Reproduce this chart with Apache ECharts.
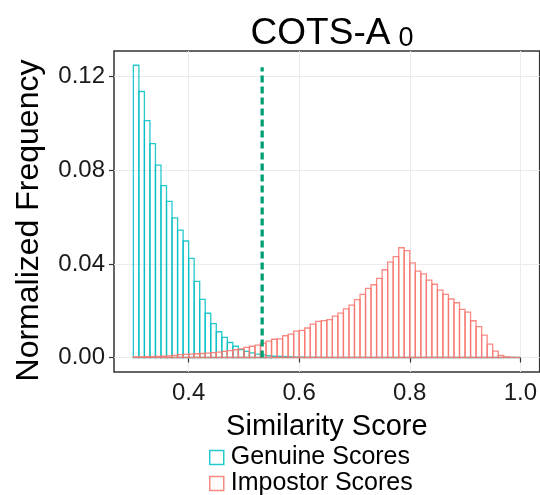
<!DOCTYPE html>
<html><head><meta charset="utf-8">
<script src="https://cdn.jsdelivr.net/npm/echarts@6/dist/echarts.min.js"></script>
<style>html,body{margin:0;padding:0;background:#fff}#c{width:540px;height:495px}</style>
</head><body><div id="c"></div>
<script>
// ---- data ----
const binStart = 0.30;
const binWidth = 0.01;
const genuine = [
  0.1249, 0.1137, 0.1012, 0.0914, 0.0822, 0.0735, 0.0667, 0.0597, 0.0544, 0.0498,
  0.0424, 0.0325, 0.0248, 0.0189, 0.0145, 0.0110, 0.0086, 0.0064, 0.0048, 0.0034,
  0.0026, 0.0020, 0.0014, 0.0011, 0.0008, 0.0006, 0.0005, 0.0004, 0.0003, 0.0002,
  0.0002, 0.0001, 0.0001, 0.0001, 0, 0, 0, 0, 0, 0,
  0, 0, 0, 0, 0, 0, 0, 0, 0, 0,
  0, 0, 0, 0, 0, 0, 0, 0, 0, 0,
  0, 0, 0, 0, 0, 0, 0, 0, 0, 0
];
const impostor = [
  0.0003, 0.0003, 0.0004, 0.0004, 0.0005, 0.0006, 0.0007, 0.0009, 0.0012, 0.0013,
  0.0014, 0.0016, 0.0017, 0.0019, 0.0021, 0.0023, 0.0026, 0.0029, 0.0033, 0.0037,
  0.0043, 0.0048, 0.0053, 0.0061, 0.0070, 0.0078, 0.0080, 0.0093, 0.0100, 0.0113,
  0.0116, 0.0126, 0.0143, 0.0154, 0.0158, 0.0162, 0.0177, 0.0190, 0.0208, 0.0224,
  0.0247, 0.0270, 0.0295, 0.0311, 0.0338, 0.0375, 0.0408, 0.0431, 0.0469, 0.0457,
  0.0404, 0.0369, 0.0357, 0.0331, 0.0313, 0.0288, 0.0270, 0.0250, 0.0234, 0.0206,
  0.0194, 0.0157, 0.0132, 0.0096, 0.0057, 0.0027, 0.0009, 0.0003, 0.0001, 0.0000
];
const thresholdX = 0.533;
const thresholdTop = 0.1241;
const xTicks = [0.4, 0.6, 0.8, 1.0];
const yTicks = [0, 0.04, 0.08, 0.12];
const titleMain = 'COTS-A';
const titleSub = '0';
const seriesNames = ['Genuine Scores', 'Impostor Scores'];
const xName = 'Similarity Score';
const yName = 'Normalized Frequency';

// ---- chart ----
const FONT = "'Liberation Sans', Arial, Helvetica, sans-serif";
const colGen = 'rgba(0,191,196,0.85)';
const colImp = 'rgba(248,118,109,0.85)';

function toBins(arr) {
  return arr.map((v, i) => [binStart + i * binWidth, binStart + (i + 1) * binWidth, v]);
}
function histRender(color) {
  return function (params, api) {
    const p0 = api.coord([api.value(0), 0]);
    const p1 = api.coord([api.value(1), api.value(2)]);
    return {
      type: 'rect',
      shape: { x: p0[0], y: p1[1], width: p1[0] - p0[0], height: p0[1] - p1[1] },
      style: { fill: 'rgba(255,255,255,0)', stroke: color, lineWidth: 1.3 }
    };
  };
}

const chart = echarts.init(document.getElementById('c'), null, { renderer: 'canvas' });
chart.setOption({
  animation: false,
  backgroundColor: '#fff',
  textStyle: { fontFamily: FONT },
  title: {
    text: '{a|' + titleMain + '}{b|' + titleSub + '}',
    left: 327, top: 10, textAlign: 'center',
    textStyle: {
      fontWeight: 'normal',
      rich: {
        a: { fontSize: 37, lineHeight: 37, verticalAlign: 'top', color: '#000', fontFamily: FONT, fontWeight: 'normal' },
        b: { fontSize: 27, lineHeight: 27, verticalAlign: 'top', color: '#000', fontFamily: FONT, fontWeight: 'normal', padding: [10, 0, 0, 8] }
      }
    }
  },
  grid: {
    left: 114, top: 51, width: 427, height: 321,
    show: true, borderColor: '#333', borderWidth: 1.5, backgroundColor: 'transparent'
  },
  legend: {
    orient: 'vertical', left: 209, top: 445, height: 80, padding: 0,
    itemWidth: 14, itemHeight: 14, itemGap: 1, icon: 'rect',
    textStyle: { fontSize: 25, lineHeight: 24, color: '#000', fontFamily: FONT, padding: [0, 0, 0, 2] },
    data: [
      { name: seriesNames[0], itemStyle: { color: 'rgba(255,255,255,0)', borderColor: colGen, borderWidth: 1.5 } },
      { name: seriesNames[1], itemStyle: { color: 'rgba(255,255,255,0)', borderColor: colImp, borderWidth: 1.5 } }
    ]
  },
  xAxis: {
    type: 'value', min: 0.265, max: 1.035,
    name: xName, nameLocation: 'middle', nameGap: 40,
    nameTextStyle: { fontSize: 29, color: '#000', fontFamily: FONT },
    axisLine: { show: false },
    axisTick: { show: true, length: 5, customValues: xTicks, lineStyle: { color: '#333', width: 1.2 } },
    axisLabel: { customValues: xTicks, fontSize: 24, color: '#1a1a1a', margin: 9, formatter: v => v.toFixed(1) },
    splitLine: { show: true, lineStyle: { color: '#ebebeb', width: 1 } }
  },
  yAxis: {
    type: 'value', min: -0.0062, max: 0.1310,
    name: yName, nameLocation: 'middle', nameGap: 69, nameRotate: 90,
    nameTextStyle: { fontSize: 32, color: '#000', fontFamily: FONT, padding: [0, 18, 0, 0] },
    axisLine: { show: false },
    axisTick: { show: true, length: 5, customValues: yTicks, lineStyle: { color: '#333', width: 1.2 } },
    axisLabel: { customValues: yTicks, fontSize: 24, color: '#1a1a1a', margin: 9, formatter: v => v.toFixed(2) },
    splitLine: { show: true, lineStyle: { color: '#ebebeb', width: 1 } }
  },
  series: [
    {
      name: seriesNames[0], type: 'custom', renderItem: histRender(colGen),
      data: toBins(genuine), encode: { x: [0, 1], y: 2 },
      itemStyle: { color: 'rgba(255,255,255,0)', borderColor: colGen }
    },
    {
      name: seriesNames[1], type: 'custom', renderItem: histRender(colImp),
      data: toBins(impostor), encode: { x: [0, 1], y: 2 },
      itemStyle: { color: 'rgba(255,255,255,0)', borderColor: colImp }
    },
    {
      name: 'threshold', type: 'line', symbol: 'none', silent: true,
      data: [[thresholdX, 0], [thresholdX, thresholdTop]],
      lineStyle: { color: '#009E73', width: 3.3, type: [7, 4] }, z: 5
    }
  ]
});
</script>
</body></html>
